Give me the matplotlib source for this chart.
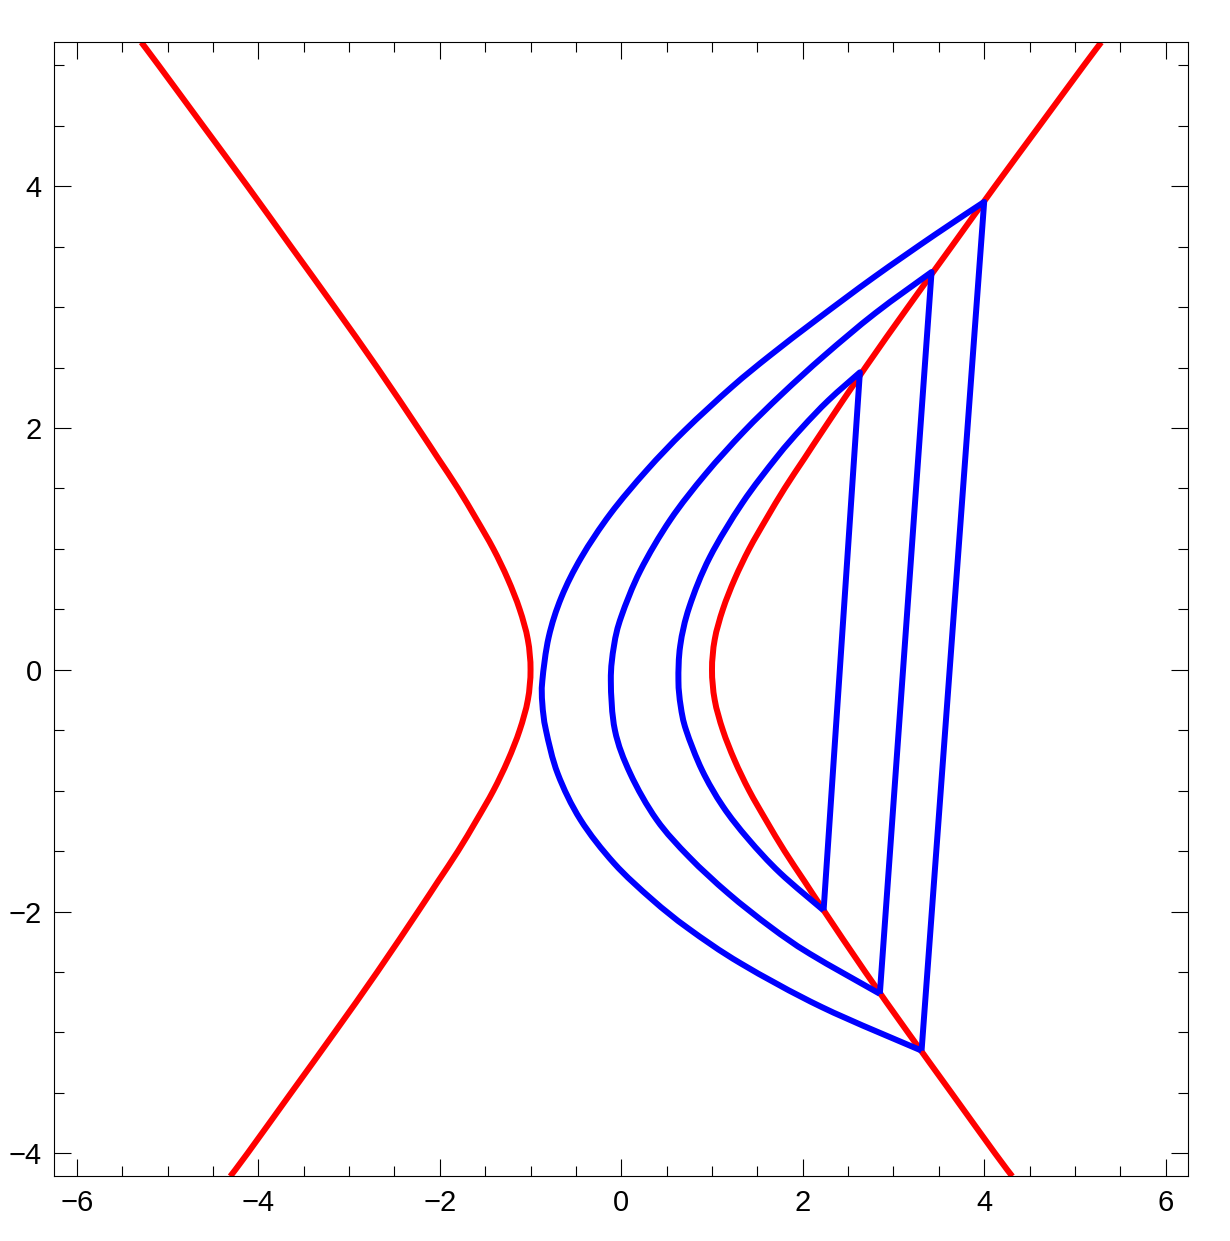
import numpy as np
import matplotlib
matplotlib.use("Agg")
import matplotlib.pyplot as plt
from matplotlib.path import Path
from matplotlib.patches import PathPatch
from matplotlib.ticker import MultipleLocator

plt.rcParams['font.family'] = ['Liberation Sans', 'DejaVu Sans']

# red curve (two mirror branches, |x| for each y)
red_y = [-4.19, -4.0, -3.5, -3.0, -2.5, -2.0, -1.75, -1.5, -1.25, -1.0, -0.75, -0.5, -0.25, 0.0,
         0.25, 0.5, 0.75, 1.0, 1.25, 1.5, 1.75, 2.0, 2.5, 3.0, 3.5, 4.0, 4.5, 5.0, 5.19]
red_x = [4.31, 4.12, 3.64, 3.16, 2.69, 2.24, 2.02, 1.80, 1.60, 1.41, 1.25, 1.12, 1.03, 1.00,
         1.03, 1.12, 1.25, 1.41, 1.60, 1.80, 2.02, 2.24, 2.69, 3.16, 3.64, 4.12, 4.61, 5.10, 5.29]

# blue curves: bottom end -> round the left -> top end, then a straight chord back
outer_x = [3.31, 2.21, 1.32, 0.74, 0.34, -0.08, -0.45, -0.70, -0.83, -0.87, -0.87, -0.80,
           -0.66, -0.44, -0.12, 0.28, 0.70, 1.22, 1.64, 2.16, 2.79, 3.46, 4.00]
outer_y = [-3.15, -2.79, -2.43, -2.14, -1.90, -1.60, -1.24, -0.86, -0.50, -0.28, -0.09, 0.27,
           0.60, 0.93, 1.29, 1.65, 1.98, 2.34, 2.60, 2.90, 3.25, 3.60, 3.87]

middle_x = [2.85, 2.08, 1.65, 1.18, 0.75, 0.39, 0.10, -0.07, -0.115, -0.08, 0.00, 0.21,
            0.54, 0.93, 1.35, 1.77, 2.24, 2.80, 3.42]
middle_y = [-2.68, -2.35, -2.13, -1.85, -1.55, -1.24, -0.86, -0.50, -0.09, 0.20, 0.44, 0.82,
            1.24, 1.62, 1.97, 2.28, 2.60, 2.95, 3.29]

inner_x = [2.23, 1.75, 1.40, 1.12, 0.89, 0.715, 0.655, 0.63, 0.65, 0.75, 0.975, 1.335, 1.715,
           1.99, 2.285, 2.63]
inner_y = [-1.99, -1.68, -1.40, -1.13, -0.83, -0.50, -0.30, -0.09, 0.20, 0.52, 0.93, 1.38,
           1.76, 2.00, 2.23, 2.46]


def smooth(xs, ys, closed_chord=False):
    # smooth line through the points (Catmull-Rom drawn as Bezier pieces)
    pts = np.column_stack([xs, ys]).astype(float)
    p = np.vstack([pts[:1], pts, pts[-1:]])
    verts = [pts[0]]
    codes = [Path.MOVETO]
    for i in range(1, len(p) - 2):
        p0, p1, p2, p3 = p[i - 1], p[i], p[i + 1], p[i + 2]
        verts += [p1 + (p2 - p0) / 6, p2 - (p3 - p1) / 6, p2]
        codes += [Path.CURVE4] * 3
    if closed_chord:
        verts.append(pts[0])
        codes.append(Path.LINETO)
    return Path(verts, codes)


fig = plt.figure(figsize=(12.30, 12.41), dpi=100)
ax = fig.add_axes([0.0441, 0.0521, 0.9220, 0.9138])

rx = np.array(red_x)
ry = np.array(red_y)
for sign in (1, -1):
    ax.add_patch(PathPatch(smooth(sign * rx, ry), fill=False, edgecolor='#ff0000',
                           lw=4.3, capstyle='butt'))

for xs, ys in [(outer_x, outer_y), (middle_x, middle_y), (inner_x, inner_y)]:
    ax.add_patch(PathPatch(smooth(xs, ys, closed_chord=True), fill=False,
                           edgecolor='#0000ff', lw=4.3, joinstyle='round'))

ax.set_xlim(-6.25, 6.25)
ax.set_ylim(-4.19, 5.19)

ax.xaxis.set_major_locator(MultipleLocator(2))
ax.xaxis.set_minor_locator(MultipleLocator(0.5))
ax.yaxis.set_major_locator(MultipleLocator(2))
ax.yaxis.set_minor_locator(MultipleLocator(0.5))
ax.tick_params(which='both', direction='in', top=True, right=True, width=0.8, colors='black')
ax.tick_params(which='major', length=12.5, labelsize=21, pad=9)
ax.tick_params(which='minor', length=7.5)
for s in ax.spines.values():
    s.set_linewidth(0.8)

fig.savefig('out.png', dpi=100)
